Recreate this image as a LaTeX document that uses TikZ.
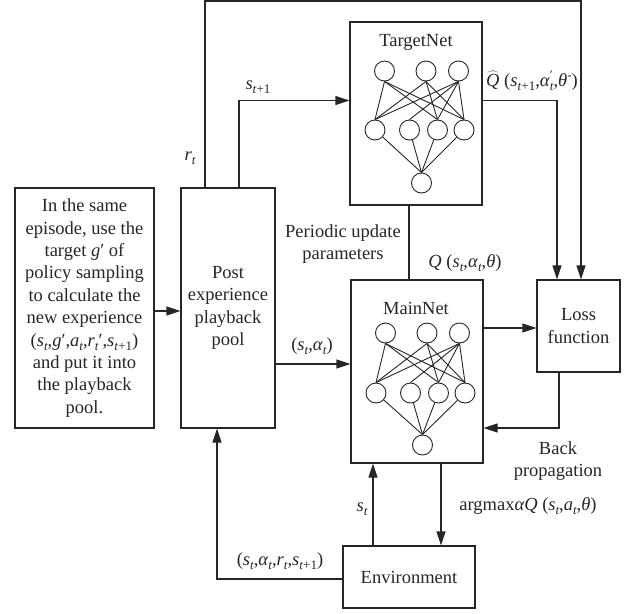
\documentclass[tikz,border=0pt]{standalone}
\usepackage{fontspec}
\setmainfont{Liberation Serif}
\usetikzlibrary{arrows.meta}

% italic variable, lowered subscript and raised superscript
\newcommand{\iv}[1]{\textit{#1}}
\newcommand{\lowered}[1]{\raisebox{-4pt}{\fontsize{13}{13}\selectfont #1}}
\newcommand{\raised}[1]{\raisebox{7pt}{\fontsize{13}{13}\selectfont #1}}
\newcommand{\sbi}[1]{\lowered{\itshape #1}}
\newcommand{\tplus}{\lowered{\textit{t}+1}}

% a small three-layer network drawn inside a box:
% #1 name prefix, #2 centre x, #3 top row y, #4 middle row y, #5 output y
\newcommand{\qnet}[5]{%
  \node[neuron] (#1a) at (#2-31.5,#3) {};
  \node[neuron] (#1b) at (#2+10,#3) {};
  \node[neuron] (#1c) at (#2+42.5,#3) {};
  \node[neuron] (#1d) at (#2-41,#4) {};
  \node[neuron] (#1e) at (#2-6.5,#4) {};
  \node[neuron] (#1f) at (#2+21.5,#4) {};
  \node[neuron] (#1g) at (#2+48,#4) {};
  \node[neuron] (#1h) at (#2+5.5,#5) {};
  \foreach \u/\v in {a/d,a/f,a/g,b/d,b/f,b/g,c/d,c/e,c/f,c/g}
    \draw[wire] (#1\u.south) -- (#1\v.north);
  \foreach \v in {d,e,f,g}
    \draw[wire] (#1\v) -- (#1h.north);
}

\begin{document}
\begin{tikzpicture}[x=1pt,y=-1pt,
  every node/.style={font=\fontsize{18.5}{22.4}\selectfont, text=black!85},
  box/.style={draw=black!85, line width=1.1pt, inner sep=0pt, align=center},
  link/.style={draw=black!85, line width=1.1pt},
  arr/.style={link, -{Triangle[length=14pt,width=9pt]}},
  neuron/.style={draw=black!85, circle, line width=0.9pt, minimum size=20pt, inner sep=0pt},
  wire/.style={draw=black!85, line width=0.9pt},
  lbl/.style={inner sep=0pt, align=center}]

\useasboundingbox (0,0) rectangle (633,614);

% boxes
\node[box, minimum width=139pt, minimum height=240pt] (textbox) at (84.5,308)
  {In the same\\episode, use the\\target \iv{g}′ of\\policy sampling\\to calculate the\\new experience\\(\iv{s}\sbi{t},\iv{g}′,\iv{a}\sbi{t},\iv{r}\sbi{t}′,\iv{s}\tplus)\\and put it into\\the playback\\pool.};
\node[box, minimum width=94pt, minimum height=240pt] (post) at (228,308)
  {Post\\experience\\playback\\pool};
\node[box, minimum width=132pt, minimum height=183pt] (target) at (416,113.5) {};
\node[box, minimum width=132pt, minimum height=183pt] (main) at (417,371.5) {};
\node[box, minimum width=83pt, minimum height=92pt] (loss) at (578.5,326)
  {Loss\\function};
\node[box, minimum width=132pt, minimum height=62pt] (env) at (409,577)
  {Environment};

% network titles and layers
\node[lbl] (targettitle) at (416,42) {TargetNet};
\node[lbl] (maintitle) at (416,308) {MainNet};
\qnet{t}{416}{71}{130}{183}
\qnet{m}{417}{333}{393}{445}

% connectors
\coordinate (tr) at (581,1);
\draw[arr] ([yshift=-3pt]textbox.east) -- ([yshift=-3pt]post.west);
\draw[arr] ([xshift=-23pt]post.north) |- (tr) -- (tr |- loss.north);
\draw[arr] ([xshift=11pt]post.north) |- ([yshift=13pt]target.west);
\draw[arr] ([yshift=13pt]target.east) -| ([xshift=-21.5pt]loss.north);
\draw[link] ([xshift=-7pt]target.south) -- ([xshift=-8pt]main.north);
\draw[arr] ([yshift=43.5pt]main.east) coordinate (ml) -- (ml -| loss.west);
\draw[arr] ([xshift=-19.5pt]loss.south) |- ([yshift=-56.5pt]main.east);
\draw[arr] ([xshift=24pt]main.south) coordinate (me) -- (me |- env.north);
\draw[arr] ([xshift=-36pt]env.north) coordinate (em) -- (em |- main.south);
\draw[arr] ([yshift=-2pt]env.west) -| ([xshift=-11pt]post.south);
\draw[arr] ([yshift=-56pt]post.east) coordinate (pm) -- (pm -| main.west);

% labels
\node[lbl] (rlab) at (190,158) {\iv{r}\sbi{t}};
\node[lbl] (slab) at (258,87) {\iv{s}\tplus};
\node[lbl] (qhlab) at (532,81)
  {$\widehat{\mbox{\iv{Q}}}$ (\iv{s}\tplus,\iv{α}\rlap{\raised{′}}\sbi{t},\iv{θ}\raised{-})};
\node[lbl] (periodic) at (343,244) {Periodic update\\parameters};
\node[lbl] (qlab) at (465,263) {\iv{Q} (\iv{s}\sbi{t},\iv{α}\sbi{t},\iv{θ})};
\node[lbl] (salab) at (312,346) {(\iv{s}\sbi{t},\iv{α}\sbi{t})};
\node[lbl] (backlab) at (558,461) {Back\\propagation};
\node[lbl] (arglab) at (528,506) {argmax\iv{αQ} (\iv{s}\sbi{t},\iv{a}\sbi{t},\iv{θ})};
\node[lbl] (stlab) at (362,509) {\iv{s}\sbi{t}};
\node[lbl] (tuplab) at (280,561) {(\iv{s}\sbi{t},\iv{α}\sbi{t},\iv{r}\sbi{t},\iv{s}\tplus)};

\end{tikzpicture}
\end{document}
